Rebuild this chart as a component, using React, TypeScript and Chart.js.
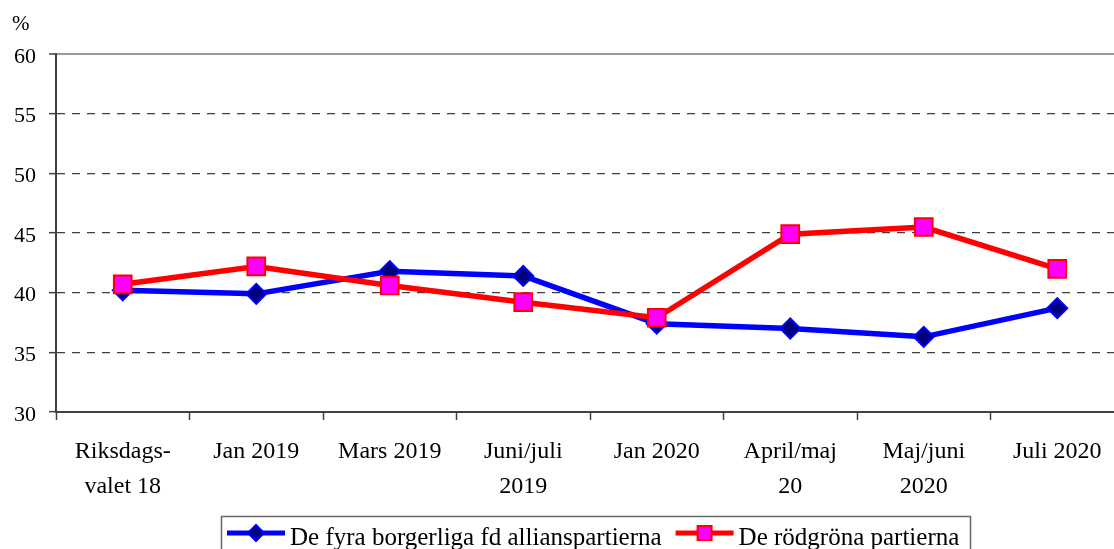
import React, { useEffect, useRef } from "react";
import { Chart, registerables } from "chart.js";

Chart.register(...registerables);

// ---- data ----
const categories: (string | string[])[] = [
  ["Riksdags-", "valet 18"],
  "Jan 2019",
  "Mars 2019",
  ["Juni/juli", "2019"],
  "Jan 2020",
  ["April/maj", "20"],
  ["Maj/juni", "2020"],
  "Juli 2020",
];
const alliansValues = [40.2, 39.9, 41.8, 41.4, 37.4, 37.0, 36.3, 38.7];
const rodgronaValues = [40.7, 42.2, 40.6, 39.2, 37.9, 44.9, 45.5, 42.0];
const seriesNames = ["De fyra borgerliga fd allianspartierna", "De rödgröna partierna"];
const yMin = 30;
const yMax = 60;
const yStep = 5;
const unitLabel = "%";

const FONT = "'Liberation Serif', 'Times New Roman', serif";
const AXIS = "#404040";

const overlayPlugin = {
  id: "overlay",
  afterDraw(chart: any) {
    const ctx = chart.ctx as CanvasRenderingContext2D;
    ctx.save();
    // unit label
    ctx.fillStyle = "#000";
    ctx.font = `21px ${FONT}`;
    ctx.textAlign = "left";
    ctx.textBaseline = "alphabetic";
    ctx.fillText(unitLabel, 12, 30);

    // legend box
    const boxLeft = 221.5;
    const boxTop = 516.5;
    const boxRight = 970.5;
    ctx.strokeStyle = "#666";
    ctx.lineWidth = 1.5;
    ctx.strokeRect(boxLeft, boxTop, boxRight - boxLeft, 60);

    ctx.font = `25px ${FONT}`;
    let x = boxLeft + 5.5;
    const ly = 533;
    chart.data.datasets.forEach((ds: any) => {
      const x0 = x;
      const x1 = x + 58;
      ctx.strokeStyle = ds.borderColor;
      ctx.lineWidth = 5;
      ctx.beginPath();
      ctx.moveTo(x0, ly);
      ctx.lineTo(x1, ly);
      ctx.stroke();
      const cx = (x0 + x1) / 2;
      ctx.fillStyle = ds.pointBackgroundColor;
      ctx.strokeStyle = ds.pointBorderColor;
      ctx.lineWidth = 2;
      ctx.beginPath();
      if (ds.pointStyle === "rectRot") {
        const r = 8;
        ctx.moveTo(cx - r, ly);
        ctx.lineTo(cx, ly - r);
        ctx.lineTo(cx + r, ly);
        ctx.lineTo(cx, ly + r);
        ctx.closePath();
      } else {
        const s = 7;
        ctx.rect(cx - s, ly - s, 2 * s, 2 * s);
      }
      ctx.fill();
      ctx.stroke();
      ctx.fillStyle = "#000";
      ctx.textBaseline = "alphabetic";
      const tx = x1 + 5;
      ctx.fillText(ds.label, tx, 545);
      x = tx + ctx.measureText(ds.label).width + 14;
    });
    ctx.restore();
  },
};

export default function App() {
  const ref = useRef<HTMLCanvasElement | null>(null);

  useEffect(() => {
    if (!ref.current) return;
    const chart = new Chart(ref.current, {
      type: "line",
      data: {
        labels: categories as any,
        datasets: [
          {
            label: seriesNames[0],
            data: alliansValues,
            borderColor: "#0000FF",
            borderWidth: 5.5,
            pointStyle: "rectRot",
            pointRadius: 10,
            pointHoverRadius: 10,
            pointBackgroundColor: "#000080",
            pointBorderColor: "#0000FF",
            pointBorderWidth: 2,
            tension: 0,
            order: 2,
          } as any,
          {
            label: seriesNames[1],
            data: rodgronaValues,
            borderColor: "#FF0000",
            borderWidth: 5.5,
            pointStyle: "rect",
            pointRadius: 12.5,
            pointHoverRadius: 12.5,
            pointBackgroundColor: "#FF00FF",
            pointBorderColor: "#FF0000",
            pointBorderWidth: 2,
            tension: 0,
            order: 1,
          } as any,
        ],
      },
      options: {
        animation: false,
        responsive: false,
        devicePixelRatio: 1,
        layout: { padding: { top: 54, right: 16, left: 0, bottom: 0 } },
        plugins: {
          legend: { display: false },
          tooltip: { enabled: false },
          title: { display: false },
        },
        scales: {
          x: {
            type: "category",
            offset: true,
            grid: {
              display: true,
              drawOnChartArea: false,
              drawTicks: true,
              tickLength: 8,
              offset: true,
              color: AXIS,
              tickColor: AXIS,
              tickWidth: 1.5,
            },
            border: { display: true, color: AXIS, width: 2 },
            ticks: {
              color: "#000",
              font: { family: FONT, size: 24, lineHeight: 35 / 24 },
              padding: 14,
              maxRotation: 0,
              autoSkip: false,
            },
            afterFit: (s: any) => {
              s.height = 137;
            },
          },
          y: {
            min: yMin,
            max: yMax,
            grid: {
              color: (c: any) =>
                c.tick && c.tick.value === yMax
                  ? "#999999"
                  : c.tick && c.tick.value === yMin
                  ? "rgba(0,0,0,0)"
                  : AXIS,
              lineWidth: (c: any) => (c.tick && c.tick.value === yMax ? 2 : 1.3),
              tickColor: AXIS,
              tickLength: 7,
              tickWidth: 1.5,
            },
            border: {
              display: true,
              color: AXIS,
              width: 2,
              dash: (c: any) => (c.tick && c.tick.value === yMax ? [] : [8, 7]),
            } as any,
            ticks: {
              stepSize: yStep,
              color: "#000",
              font: { family: FONT, size: 22 },
              padding: 13,
              labelOffset: 3,
            } as any,
            afterFit: (s: any) => {
              s.width = 56;
            },
          },
        },
      },
      plugins: [overlayPlugin],
    });
    return () => chart.destroy();
  }, []);

  return (
    <div
      style={{
        position: "fixed",
        left: 0,
        top: 0,
        width: 1114,
        height: 549,
        overflow: "hidden",
        background: "#fff",
      }}
    >
      <canvas ref={ref} width={1140} height={549} style={{ display: "block" }} />
    </div>
  );
}
